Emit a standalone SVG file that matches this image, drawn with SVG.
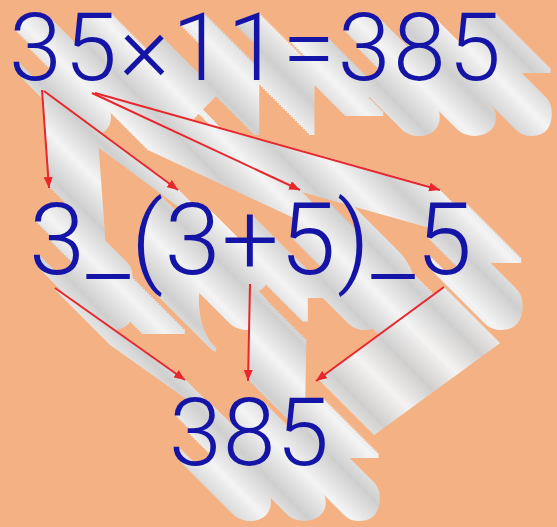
<svg xmlns="http://www.w3.org/2000/svg" xmlns:xlink="http://www.w3.org/1999/xlink" width="557" height="527" viewBox="0 0 557 527">
<style>
  .bg{fill:#F4B183}
  .num{font-family:Roboto,"Liberation Sans",Arial,sans-serif;font-weight:300;stroke:none}
  .ink{fill:#1414a6}
  .ext{fill:url(#shade);stroke:url(#shade)}
  .ext-line{fill:none;stroke-width:3}
  .arrow{fill:none;stroke:#e8262b;stroke-width:2;marker-end:url(#head)}
</style>
<defs>
  <linearGradient id="shade" gradientUnits="userSpaceOnUse" x1="0" y1="0" x2="21" y2="-21" spreadMethod="reflect">
    <stop offset="0" stop-color="#f4f4f4"/>
    <stop offset="1" stop-color="#cfcfcf"/>
  </linearGradient>
  <marker id="head" markerUnits="userSpaceOnUse" markerWidth="12" markerHeight="9" refX="11" refY="4.5" orient="auto">
    <path d="M0,0 L11,4.5 L0,9 z" fill="#e8262b"/>
  </marker>
  <g id="solid">
    <use href="#n-top"/>
    <use href="#n-mid"/>
    <use href="#n-bot"/>
    <path class="ext-line" d="M42,90 L49,186 M44,91 L176,189 M92,93 L298,189 M95,93 L438,189 M55,288 L183,379 M250,284 L248,379 M444,287 L318,379"/>
  </g>
</defs>
<rect class="bg" x="0" y="0" width="557" height="527"/>
<g id="extrusion" class="ext">
  <use href="#solid" x="55" y="55"/>
  <use href="#solid" x="53" y="53"/>
  <use href="#solid" x="51" y="51"/>
  <use href="#solid" x="49" y="49"/>
  <use href="#solid" x="47" y="47"/>
  <use href="#solid" x="45" y="45"/>
  <use href="#solid" x="43" y="43"/>
  <use href="#solid" x="41" y="41"/>
  <use href="#solid" x="39" y="39"/>
  <use href="#solid" x="37" y="37"/>
  <use href="#solid" x="35" y="35"/>
  <use href="#solid" x="33" y="33"/>
  <use href="#solid" x="31" y="31"/>
  <use href="#solid" x="29" y="29"/>
  <use href="#solid" x="27" y="27"/>
  <use href="#solid" x="25" y="25"/>
  <use href="#solid" x="23" y="23"/>
  <use href="#solid" x="21" y="21"/>
  <use href="#solid" x="19" y="19"/>
  <use href="#solid" x="17" y="17"/>
  <use href="#solid" x="15" y="15"/>
  <use href="#solid" x="13" y="13"/>
  <use href="#solid" x="11" y="11"/>
  <use href="#solid" x="9" y="9"/>
  <use href="#solid" x="7" y="7"/>
  <use href="#solid" x="5" y="5"/>
  <use href="#solid" x="3" y="3"/>
  <use href="#solid" x="1" y="1"/>
</g>
<g id="connectors">
  <line class="arrow" x1="42" y1="90" x2="49" y2="188"/>
  <line class="arrow" x1="44" y1="91" x2="178" y2="190"/>
  <line class="arrow" x1="92" y1="93" x2="300" y2="190"/>
  <line class="arrow" x1="95" y1="93" x2="440" y2="190"/>
  <line class="arrow" x1="55" y1="288" x2="185" y2="380"/>
  <line class="arrow" x1="250" y1="284" x2="248" y2="381"/>
  <line class="arrow" x1="444" y1="287" x2="316" y2="381"/>
</g>
<g class="ink">
  <g id="n-top"><text class="num" x="9" y="80" font-size="95" textLength="492" lengthAdjust="spacing">35×11=385</text></g>
  <g id="n-mid"><text class="num" x="29" y="274" font-size="101" textLength="443" lengthAdjust="spacing">3_(3+5)_5</text></g>
  <g id="n-bot"><text class="num" x="169" y="465" font-size="95" textLength="160" lengthAdjust="spacing">385</text></g>
</g>
</svg>
